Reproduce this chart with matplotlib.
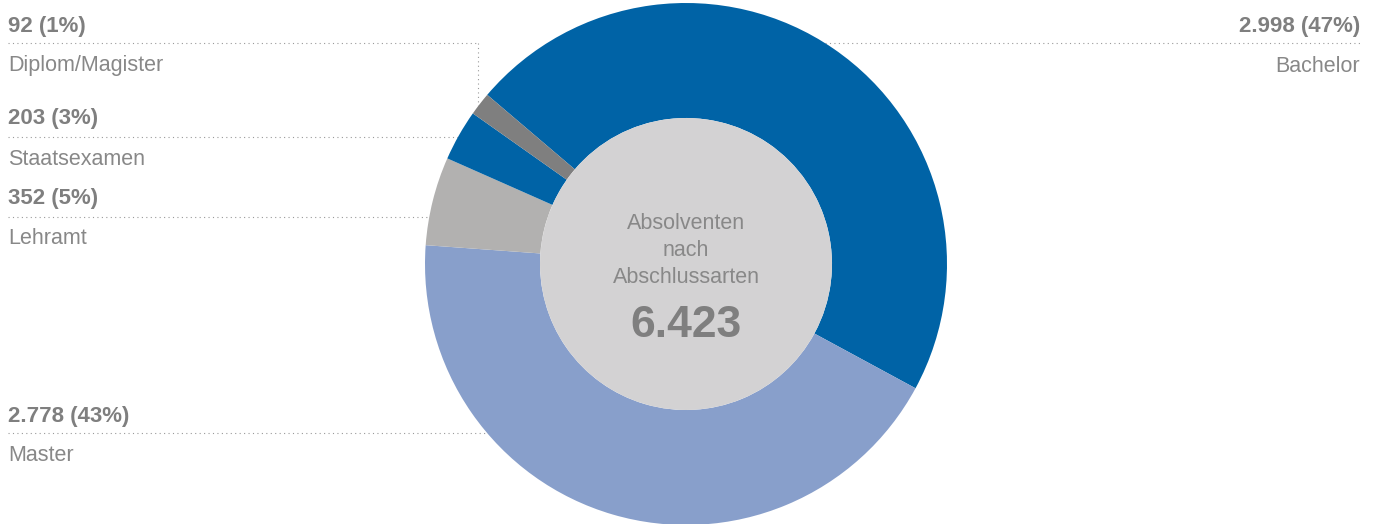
import numpy as np
import matplotlib
matplotlib.use("Agg")
import matplotlib.pyplot as plt
from matplotlib.patches import Circle

# ─── DATA ─────────────────────────────────────────────────────────────────────
CATEGORIES = ["Bachelor", "Master", "Lehramt", "Staatsexamen", "Diplom/Magister"]
VALUES = [2998, 2778, 352, 203, 92]
COLORS = ["#0063a6", "#889fcb", "#b2b1b0", "#0063a6", "#7f7f7f"]
TOTAL = sum(VALUES)
CENTER_TITLE = ["Absolventen", "nach", "Abschlussarten"]

# ─── LAYOUT (pixels, y measured from top) ─────────────────────────────────────
W, H = 1380, 524
CX, CY = 686, 264
R_OUT, R_IN = 261, 146
START_ANGLE = 139.6
TEXT_COLOR = "#7f7f7f"
NAME_COLOR = "#888888"
LINE_COLOR = "#9a9a9a"
FONT = "Liberation Sans"

# label baseline (value), leader line y, baseline (name), side
LABEL_POS = {
    "Diplom/Magister": (31.7, 43.3, 71.0, "left"),
    "Staatsexamen": (124.0, 136.7, 165.0, "left"),
    "Lehramt": (204.0, 216.7, 244.0, "left"),
    "Master": (421.7, 433.3, 461.0, "left"),
    "Bachelor": (31.7, 43.3, 71.7, "right"),
}


def py(y):
    """Convert a top-based pixel y to data y."""
    return H - y


def fmt_de(n):
    return f"{n:,}".replace(",", ".")


fig = plt.figure(figsize=(W / 100, H / 100), dpi=100)
ax = fig.add_axes([0, 0, 1, 1])

ax.pie(VALUES, colors=COLORS, startangle=START_ANGLE, counterclock=False,
       radius=R_OUT, center=(CX, py(CY)),
       wedgeprops=dict(width=R_OUT - R_IN, linewidth=0), frame=True)
ax.add_patch(Circle((CX, py(CY)), R_IN, color="#d3d2d3", linewidth=0, zorder=3))

dotted = dict(color=LINE_COLOR, linewidth=0.8, linestyle=(0, (1, 3)), zorder=0)

for cat, val in zip(CATEGORIES, VALUES):
    y_val, y_line, y_name, side = LABEL_POS[cat]
    pct = round(val / TOTAL * 100)
    dy = y_line - CY
    if side == "left":
        x_txt, ha = 8, "left"
        if cat == "Diplom/Magister":
            # leader goes right, then down onto the small slice
            x_end = 478
            y_end = CY - np.sqrt(R_OUT**2 - (x_end - CX) ** 2)
            ax.plot([8, x_end], [py(y_line), py(y_line)], **dotted)
            ax.plot([x_end, x_end], [py(y_line), py(y_end)], **dotted)
        else:
            x_end = CX - np.sqrt(R_OUT**2 - dy**2)
            ax.plot([8, x_end], [py(y_line), py(y_line)], **dotted)
    else:
        x_txt, ha = 1360, "right"
        x_start = CX + np.sqrt(R_OUT**2 - dy**2)
        ax.plot([x_start, 1360], [py(y_line), py(y_line)], **dotted)

    ax.text(x_txt, py(y_val), f"{fmt_de(val)} ({pct}%)", ha=ha, va="baseline",
            fontsize=16, fontweight="bold", color=TEXT_COLOR, family=FONT)
    ax.text(x_txt, py(y_name), cat, ha=ha, va="baseline",
            fontsize=15.5, color=NAME_COLOR, family=FONT)

# centre text
for line, yb in zip(CENTER_TITLE, [229, 256, 282.7]):
    ax.text(CX, py(yb), line, ha="center", va="baseline", fontsize=15.5,
            color=NAME_COLOR, family=FONT, zorder=4)
ax.text(CX, py(336.7), fmt_de(TOTAL), ha="center", va="baseline", fontsize=32,
        fontweight="bold", color=TEXT_COLOR, family=FONT, zorder=4)

ax.set_xlim(0, W)
ax.set_ylim(0, H)
ax.set_aspect("equal")
ax.axis("off")

plt.savefig("out.png", dpi=100)
